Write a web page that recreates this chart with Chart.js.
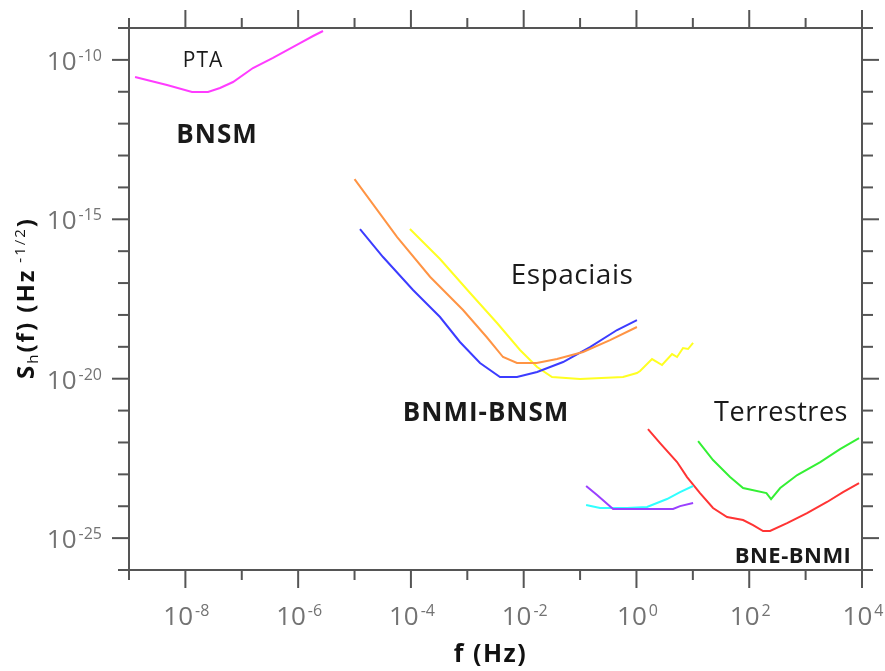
<!DOCTYPE html>
<html>
<head>
<meta charset="utf-8">
<script src="https://cdn.jsdelivr.net/npm/chart.js@4/dist/chart.umd.min.js"></script>
<style>
body{margin:0;background:#fff;}
</style>
</head>
<body>
<canvas id="chart" width="885" height="671"></canvas>
<script>
// frequencies (Hz) and strain sensitivity Sh(f) (Hz^-1/2) of each detector curve
var ptaF = [1.28e-9, 2.08e-9, 4.72e-9, 1.31e-8, 2.52e-8, 4.11e-8, 7.0e-8, 1.58e-7, 3.58e-7, 1.08e-6, 1.84e-6, 2.76e-6];
var ptaS = [2.9e-11, 2.34e-11, 1.63e-11, 9.8e-12, 9.8e-12, 1.31e-11, 2.02e-11, 5.56e-11, 1.15e-10, 3.38e-10, 5.61e-10, 8.05e-10];

var orangeF = [1.0e-5, 5.7e-5, 2.2e-4, 8.4e-4, 2.2e-3, 4.3e-3, 7.6e-3, 1.7e-2, 3.9e-2, 0.113, 0.34, 1.02];
var orangeS = [1.83e-14, 2.78e-16, 1.55e-17, 1.43e-18, 2.03e-19, 4.79e-20, 3.1e-20, 3.1e-20, 4.14e-20, 6.87e-20, 1.63e-19, 4.18e-19];

var blueF = [1.25e-5, 3.2e-5, 1.09e-4, 3.28e-4, 7.4e-4, 1.68e-3, 3.8e-3, 7.6e-3, 1.73e-2, 5.0e-2, 0.150, 0.453, 1.02];
var blueS = [4.95e-16, 6.56e-17, 6.05e-18, 8.6e-19, 1.42e-19, 3.1e-20, 1.13e-20, 1.13e-20, 1.62e-20, 3.33e-20, 9.86e-20, 3.37e-19, 6.93e-19];

var yellowF = [9.6e-5, 3.28e-4, 1.12e-3, 3.37e-3, 8.6e-3, 1.73e-2, 3.18e-2, 9.98e-2, 0.578, 1.02, 1.16, 1.89, 2.84, 4.28, 5.25, 6.70, 8.22, 10.1];
var yellowS = [4.95e-16, 5.68e-17, 4.88e-18, 5.58e-19, 7.94e-20, 2.32e-20, 1.13e-20, 9.8e-21, 1.13e-20, 1.51e-20, 1.74e-20, 4.14e-20, 2.69e-20, 5.94e-20, 4.79e-20, 9.16e-20, 8.53e-20, 1.32e-19];

var purpleF = [0.128, 0.200, 0.385, 1.31, 4.46, 5.93, 10.1];
var purpleS = [4.31e-24, 2.24e-24, 8.17e-25, 8.17e-25, 8.17e-25, 1.01e-24, 1.26e-24];

var cyanF = [0.128, 0.226, 0.681, 1.54, 3.48, 5.93, 10.1];
var cyanS = [1.09e-24, 8.79e-25, 8.79e-25, 9.44e-25, 1.68e-24, 2.79e-24, 4.31e-24];

var redF = [1.60, 2.62, 5.25, 7.89, 13.4, 22.8, 40.4, 77.8, 117, 176, 234, 469, 1060, 2400, 4610, 8870];
var redS = [2.64e-22, 9.6e-23, 2.43e-23, 8.24e-24, 2.59e-24, 8.79e-25, 4.58e-25, 3.69e-25, 2.57e-25, 1.67e-25, 1.67e-25, 2.97e-25, 6.12e-25, 1.36e-24, 2.79e-24, 5.35e-24];

var greenF = [12.4, 22.8, 45.7, 77.8, 202, 244, 354, 710, 1820, 4080, 8870];
var greenS = [1.11e-22, 2.81e-23, 8.24e-24, 3.72e-24, 2.59e-24, 1.68e-24, 3.72e-24, 9.53e-24, 2.43e-23, 6.22e-23, 1.38e-22];

// axis range (powers of ten) and labelled ticks
var xMinExp = -9, xMaxExp = 4;
var yMinExp = -26, yMaxExp = -9;
var xTickExps = [-8, -6, -4, -2, 0, 2, 4];
var yTickExps = [-10, -15, -20, -25];

// region labels: text, f, Sh
var noteText = ['PTA', 'BNSM', 'Espaciais', 'BNMI-BNSM', 'Terrestres', 'BNE-BNMI'];
var noteF = [2.06e-8, 3.64e-8, 0.072, 2.15e-3, 366, 598];
var noteS = [9.2e-11, 4.1e-13, 1.66e-17, 7.8e-22, 8.4e-22, 2.6e-26];
var noteFont = ['21px "Open Sans"', 'bold 26px "Open Sans"', '28px "Open Sans"', 'bold 26px "Open Sans"', '27px "Open Sans"', 'bold 22px "Open Sans"'];
var noteSpacing = ['1px', '1px', '0.5px', '1px', '0.5px', '0.5px'];

function toPoints(f, s){
	var pts = [];
	for(var i = 0; i < f.length; i++){
		pts.push({x: f[i], y: s[i]});
	}
	return pts;
}

function curve(f, s, color){
	return {
		data: toPoints(f, s),
		borderColor: color,
		borderWidth: 2,
		pointRadius: 0,
		tension: 0,
		fill: false
	};
}

function line(ctx, x1, y1, x2, y2){
	ctx.beginPath();
	ctx.moveTo(x1, y1);
	ctx.lineTo(x2, y2);
	ctx.stroke();
}

// "10" with a raised exponent; y is the baseline of "10"
function drawPow(ctx, exp, x, y, align){
	ctx.font = '26px "Open Sans"';
	var wBase = ctx.measureText('10').width;
	ctx.font = '16px "Open Sans"';
	var wExp = ctx.measureText(String(exp)).width;
	var total = wBase + 2 + wExp;
	var start = align == 'right' ? x - total : x - total / 2;
	ctx.fillStyle = '#737373';
	ctx.textAlign = 'left';
	ctx.textBaseline = 'alphabetic';
	ctx.font = '26px "Open Sans"';
	ctx.fillText('10', start, y);
	ctx.font = '16px "Open Sans"';
	ctx.fillText(String(exp), start + wBase + 2, y - 9);
}

var framePlugin = {
	id: 'frame',
	afterDraw: function(chart){
		var ctx = chart.ctx;
		var a = chart.chartArea;
		var xs = chart.scales.x;
		var ys = chart.scales.y;
		ctx.save();
		ctx.strokeStyle = '#555';
		ctx.lineWidth = 2;
		ctx.strokeRect(a.left, a.top, a.right - a.left, a.bottom - a.top);

		for(var e = xMinExp; e <= xMaxExp; e++){
			var px = xs.getPixelForValue(Math.pow(10, e));
			var len = (e % 2 == 0) ? 18 : 10;
			line(ctx, px, a.bottom, px, a.bottom + len);
			line(ctx, px, a.top, px, a.top - len);
		}
		for(var e = yMinExp; e <= yMaxExp; e++){
			var py = ys.getPixelForValue(Math.pow(10, e));
			var len = (e % 5 == 0) ? 17 : 11;
			line(ctx, a.left, py, a.left - len, py);
			line(ctx, a.right, py, a.right + len, py);
		}
		for(var i = 0; i < xTickExps.length; i++){
			drawPow(ctx, xTickExps[i], xs.getPixelForValue(Math.pow(10, xTickExps[i])) + 1, a.bottom + 55, 'center');
		}
		for(var i = 0; i < yTickExps.length; i++){
			drawPow(ctx, yTickExps[i], a.left - 27, ys.getPixelForValue(Math.pow(10, yTickExps[i])) + 10, 'right');
		}

		// region labels
		ctx.fillStyle = '#1a1a1a';
		ctx.textAlign = 'center';
		ctx.textBaseline = 'middle';
		for(var i = 0; i < noteText.length; i++){
			ctx.font = noteFont[i];
			ctx.letterSpacing = noteSpacing[i];
			ctx.fillText(noteText[i], xs.getPixelForValue(noteF[i]), ys.getPixelForValue(noteS[i]));
		}

		// axis titles
		ctx.fillStyle = '#111';
		ctx.font = 'bold 25px "Open Sans"';
		ctx.letterSpacing = '1.5px';
		ctx.fillText('f (Hz)', (a.left + a.right) / 2 - 5, a.bottom + 85);

		ctx.translate(34, 298);
		ctx.rotate(-Math.PI / 2);
		ctx.textBaseline = 'alphabetic';
		ctx.letterSpacing = '2px';
		var parts = [
			{t: 'S', f: 'bold 24px "Open Sans"', dy: 0},
			{t: 'h', f: '15px "Open Sans"', dy: 4},
			{t: '(f) (Hz', f: 'bold 24px "Open Sans"', dy: 0},
			{t: ' -1/2', f: '15px "Open Sans"', dy: -9},
			{t: ')', f: 'bold 24px "Open Sans"', dy: 0}
		];
		var total = 0;
		for(var i = 0; i < parts.length; i++){
			ctx.font = parts[i].f;
			parts[i].w = ctx.measureText(parts[i].t).width;
			total += parts[i].w;
		}
		var cx = -total / 2;
		ctx.textAlign = 'left';
		for(var i = 0; i < parts.length; i++){
			ctx.font = parts[i].f;
			ctx.fillText(parts[i].t, cx, parts[i].dy);
			cx += parts[i].w;
		}
		ctx.restore();
	}
};

var ctx = document.getElementById('chart').getContext('2d');
var myChart = new Chart(ctx, {
	type: 'line',
	data: {
		datasets: [
			curve(ptaF, ptaS, '#ff3cff'),
			curve(orangeF, orangeS, '#ff9444'),
			curve(blueF, blueS, '#3c3cff'),
			curve(yellowF, yellowS, '#ffff22'),
			curve(purpleF, purpleS, '#9a40ff'),
			curve(cyanF, cyanS, '#30ffff'),
			curve(redF, redS, '#ff3434'),
			curve(greenF, greenS, '#34f034')
		]
	},
	options: {
		responsive: false,
		animation: false,
		layout: {padding: {left: 129, right: 23, top: 28, bottom: 101}},
		plugins: {legend: {display: false}, tooltip: {enabled: false}},
		scales: {
			x: {type: 'logarithmic', min: Math.pow(10, xMinExp), max: Math.pow(10, xMaxExp), display: false},
			y: {type: 'logarithmic', min: Math.pow(10, yMinExp), max: Math.pow(10, yMaxExp), display: false}
		}
	},
	plugins: [framePlugin]
});
</script>
</body>
</html>
